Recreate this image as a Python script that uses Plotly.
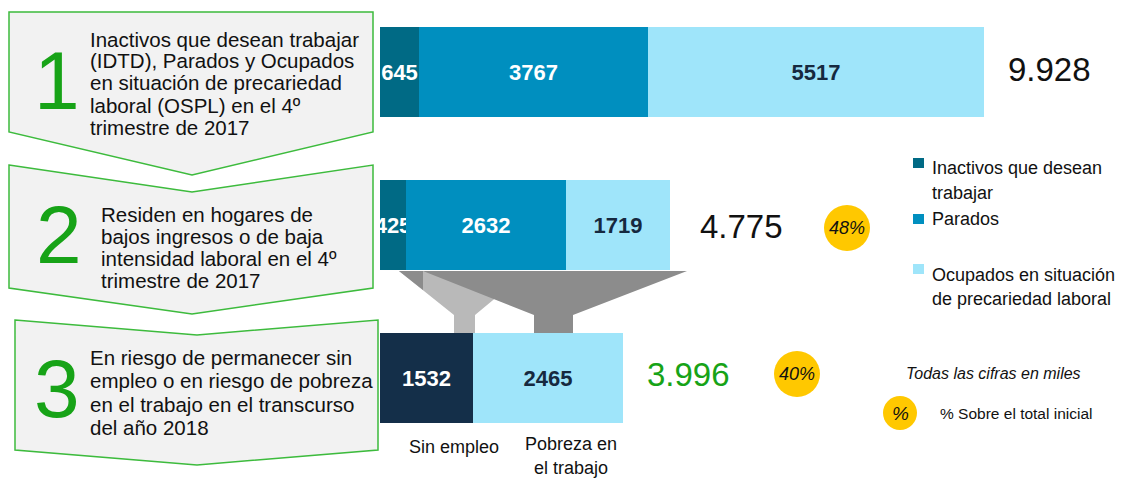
import plotly.graph_objects as go

W, H = 1121, 479

# ---------------- data ----------------
rows = ["Paso 1", "Paso 2", "Paso 3"]
inactivos = [645, 425, None]
parados = [3767, 2632, None]
ocupados = [5517, 1719, None]
sin_empleo = [None, None, 1532]
pobreza_trabajo = [None, None, 2465]
totales = ["9.928", "4.775", "3.996"]
porcentajes = ["48%", "40%"]

step_numbers = ["1", "2", "3"]
step_texts = [
    ["Inactivos que desean trabajar", "(IDTD), Parados y Ocupados",
     "en situación de precariedad", "laboral (OSPL) en el 4º", "trimestre de 2017"],
    ["Residen en hogares de", "bajos ingresos o de baja",
     "intensidad laboral en el 4º", "trimestre de 2017"],
    ["En riesgo de permanecer sin", "empleo o en riesgo de pobreza",
     "en el trabajo en el transcurso", "del año 2018"],
]
legend_labels = [["Inactivos que desean", "trabajar"], ["Parados"],
                 ["Ocupados en situación", "de precariedad laboral"]]
bar3_labels = [["Sin empleo"], ["Pobreza en", "el trabajo"]]
note_text = "Todas las cifras en miles"
pct_note = "% Sobre el total inicial"

# ---------------- style ----------------
FONT = "Liberation Sans, Arial, Helvetica, sans-serif"
C_INACT = "#006A85"
C_PARADOS = "#008FBF"
C_OCUP = "#9FE5FA"
C_SIN = "#142F49"
C_DARKTXT = "#16293F"
GREEN = "#17A317"
BOX_FILL = "#F2F2F2"
BOX_LINE = "#3DBB3D"
YELLOW = "#FFC800"

def X(px):
    return px / W

def Y(py):
    return 1 - py / H

def path(points):
    s = "M " + " L ".join(f"{X(a):.5f},{Y(b):.5f}" for a, b in points) + " Z"
    return s

fig = go.Figure()

def bar(name, vals, color, txtcolor):
    fig.add_trace(go.Bar(
        name=name, y=rows, x=vals, orientation="h",
        marker=dict(color=color, line=dict(width=0)),
        width=0.59,
        text=[None if v is None else str(v) for v in vals],
        textposition="inside", insidetextanchor="middle",
        constraintext="none", textangle=0, cliponaxis=False,
        textfont=dict(family=FONT, size=22, color=txtcolor, weight="bold"),
        hoverinfo="skip", showlegend=False,
    ))

bar("Inactivos que desean trabajar", inactivos, C_INACT, "white")
bar("Parados", parados, C_PARADOS, "white")
bar("Ocupados en situación de precariedad laboral", ocupados, C_OCUP, C_DARKTXT)
bar("Sin empleo", sin_empleo, C_SIN, "white")
bar("Pobreza en el trabajo", pobreza_trabajo, C_OCUP, C_DARKTXT)

shapes = []
annotations = []

# step boxes (chevrons)
boxes = [
    [(9, 12), (373, 12), (373, 132), (192, 175), (9, 132)],
    [(9, 165), (192, 192), (373, 165), (373, 288), (192, 314), (9, 288)],
    [(15, 320), (197, 335), (378, 320), (378, 450), (197, 465), (15, 450)],
]
for pts in boxes:
    shapes.append(dict(type="path", xref="paper", yref="paper", path=path(pts),
                       fillcolor=BOX_FILL, line=dict(color=BOX_LINE, width=1.5),
                       layer="above"))

# funnels
funnels = [
    ([(399, 271), (528, 271), (475, 315), (475, 333), (454, 333), (454, 315)], "#B9B9B9"),
    ([(399, 271), (423, 271), (423, 290)], "#8C8C8C"),
    ([(423, 271), (687, 271), (573, 315), (573, 333), (534, 333), (534, 315)], "#8C8C8C"),
]
for pts, col in funnels:
    shapes.append(dict(type="path", xref="paper", yref="paper", path=path(pts),
                       fillcolor=col, line=dict(width=0), layer="below"))

# big step numbers
num_pos = [(57, 80), (59, 234), (57, 388)]
for n, (px, py) in zip(step_numbers, num_pos):
    annotations.append(dict(x=X(px), y=Y(py), xref="paper", yref="paper", text=n,
                            showarrow=False, xanchor="center", yanchor="middle",
                            font=dict(family=FONT, size=82, color=GREEN)))

# step texts
text_pos = [(88, 39, 22), (99, 215, 21.7), (88, 357, 23.6)]
for lines, (px, py0, dy) in zip(step_texts, text_pos):
    for i, ln in enumerate(lines):
        annotations.append(dict(x=X(px), y=Y(py0 + i * dy), xref="paper", yref="paper",
                                text=ln, showarrow=False, xanchor="left", yanchor="middle",
                                font=dict(family=FONT, size=20.5, color="#111111")))

# totals
tot_pos = [(1049, 70, "#111111"), (741, 226, "#111111"), (688, 374, GREEN)]
for t, (px, py, col) in zip(totales, tot_pos):
    annotations.append(dict(x=X(px), y=Y(py), xref="paper", yref="paper", text=t,
                            showarrow=False, xanchor="center", yanchor="middle",
                            font=dict(family=FONT, size=33, color=col)))

# percentage circles
circ_pos = [(847, 228, 23), (797, 374, 23)]
for p, (cx, cy, r) in zip(porcentajes, circ_pos):
    shapes.append(dict(type="circle", xref="paper", yref="paper",
                       x0=X(cx - r), x1=X(cx + r), y0=Y(cy + r), y1=Y(cy - r),
                       fillcolor=YELLOW, line=dict(width=0), layer="above"))
    annotations.append(dict(x=X(cx), y=Y(cy), xref="paper", yref="paper", text=f"<i>{p}</i>",
                            showarrow=False, xanchor="center", yanchor="middle",
                            font=dict(family=FONT, size=18, color="#111111")))

# labels under bar 3
lab_pos = [(454, 447, 24), (571, 444, 24)]
for lines, (px, py, dy) in zip(bar3_labels, lab_pos):
    for i, ln in enumerate(lines):
        annotations.append(dict(x=X(px), y=Y(py + i * dy), xref="paper", yref="paper",
                                text=ln, showarrow=False, xanchor="center", yanchor="middle",
                                font=dict(family=FONT, size=18, color="#111111")))

# legend
leg_colors = [C_INACT, C_PARADOS, C_OCUP]
leg_sq = [163, 219, 269]
leg_lines_y = [[168, 193], [219], [275, 299]]
for col, sy, lines, ys in zip(leg_colors, leg_sq, legend_labels, leg_lines_y):
    shapes.append(dict(type="rect", xref="paper", yref="paper",
                       x0=X(913), x1=X(924), y0=Y(sy + 5), y1=Y(sy - 5),
                       fillcolor=col, line=dict(width=0)))
    for ln, ly in zip(lines, ys):
        annotations.append(dict(x=X(930), y=Y(ly), xref="paper", yref="paper", text=ln,
                                showarrow=False, xanchor="left", yanchor="middle",
                                font=dict(family=FONT, size=18, color="#111111")))

# notes
annotations.append(dict(x=X(993), y=Y(373), xref="paper", yref="paper",
                        text=f"<i>{note_text}</i>", showarrow=False,
                        xanchor="center", yanchor="middle",
                        font=dict(family=FONT, size=16, color="#111111")))
shapes.append(dict(type="circle", xref="paper", yref="paper",
                   x0=X(900 - 17), x1=X(900 + 17), y0=Y(413 + 17), y1=Y(413 - 17),
                   fillcolor=YELLOW, line=dict(width=0)))
annotations.append(dict(x=X(900), y=Y(413), xref="paper", yref="paper", text="<i>%</i>",
                        showarrow=False, xanchor="center", yanchor="middle",
                        font=dict(family=FONT, size=19, color="#111111")))
annotations.append(dict(x=X(938), y=Y(413), xref="paper", yref="paper", text=pct_note,
                        showarrow=False, xanchor="left", yanchor="middle",
                        font=dict(family=FONT, size=15.5, color="#111111")))

ORIGIN_PX = 380
SCALE = 0.0608  # px per thousand
fig.update_layout(
    width=W, height=H,
    margin=dict(l=0, r=0, t=0, b=0),
    paper_bgcolor="white", plot_bgcolor="white",
    barmode="stack", bargap=0,
    xaxis=dict(range=[-ORIGIN_PX / SCALE, (W - ORIGIN_PX) / SCALE], visible=False,
               domain=[0, 1], fixedrange=True),
    yaxis=dict(range=[2 + (H - 378) / 153, -72 / 153], visible=False,
               domain=[0, 1], fixedrange=True),
    shapes=shapes, annotations=annotations,
    showlegend=False,
)

fig.write_html("out.html", config={"displayModeBar": False},
               post_script="document.body.style.margin='0';document.body.style.overflow='hidden';")
